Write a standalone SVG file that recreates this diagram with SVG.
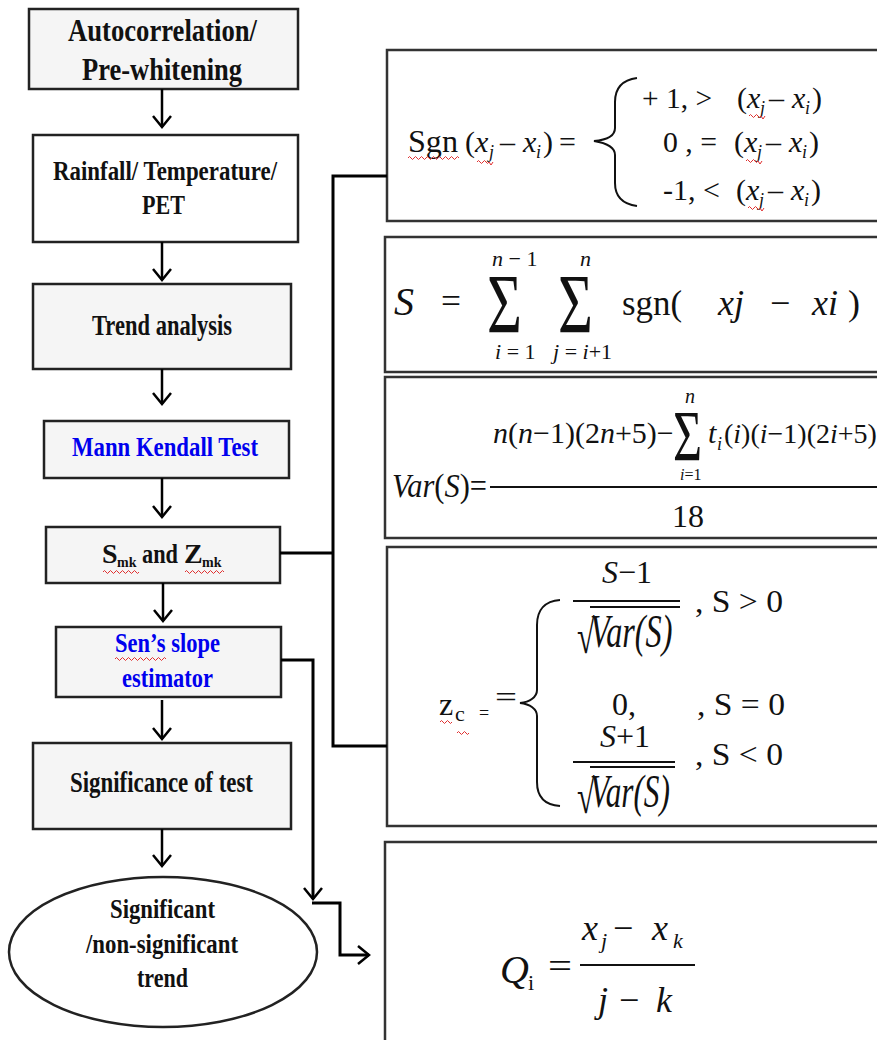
<svg xmlns="http://www.w3.org/2000/svg" width="877" height="1040" viewBox="0 0 877 1040">
<style>
.box{fill:#f5f5f5;stroke:#222;stroke-width:2.5}
.wbox{fill:#fff;stroke:#222;stroke-width:2.5}
.fbox{fill:#fff;stroke:#333;stroke-width:2.5}
.lb{font-family:"Liberation Serif","Times New Roman",serif;font-weight:bold;fill:#111}
.blue{fill:#0000ee}
.m{font-family:"Liberation Serif","Times New Roman",serif;fill:#111}
.i{font-style:italic}
.conn{fill:none;stroke:#000;stroke-width:3}
.arr{fill:none;stroke:#000;stroke-width:2.5}
.bar{stroke:#111;stroke-width:2}
.brace{fill:none;stroke:#111;stroke-width:2}
.spell{fill:none;stroke:#e03030;stroke-width:1}
</style>
<defs>
<marker id="ah" markerUnits="userSpaceOnUse" markerWidth="20" markerHeight="22" refX="12" refY="10" orient="auto">
<path d="M1,1 L12,10 L1,19" fill="none" stroke="#000" stroke-width="2.5"/>
</marker>
</defs>

<!-- left flow nodes -->
<g id="n-autocorr">
<rect class="box" x="29" y="9" width="269" height="80"/>
<text class="lb" font-size="32" x="68" y="41" textLength="189" lengthAdjust="spacingAndGlyphs">Autocorrelation/</text>
<text class="lb" font-size="32" x="82" y="80" textLength="160" lengthAdjust="spacingAndGlyphs">Pre-whitening</text>
</g>
<g id="n-rainfall">
<rect class="wbox" x="33" y="135" width="265" height="107"/>
<text class="lb" font-size="27" x="53" y="180" textLength="224" lengthAdjust="spacingAndGlyphs">Rainfall/ Temperature/</text>
<text class="lb" font-size="27" x="142" y="214" textLength="43" lengthAdjust="spacingAndGlyphs">PET</text>
</g>
<g id="n-trend">
<rect class="box" x="33" y="284" width="258" height="85"/>
<text class="lb" font-size="29" x="92" y="335" textLength="140" lengthAdjust="spacingAndGlyphs">Trend analysis</text>
</g>
<g id="n-mk">
<rect class="box" x="44" y="421" width="245" height="57"/>
<text class="lb blue" font-size="27" x="72" y="456" textLength="186" lengthAdjust="spacingAndGlyphs">Mann Kendall Test</text>
</g>
<g id="n-smk">
<rect class="box" x="46" y="527" width="234" height="56"/>
<text class="lb" font-size="28" x="102" y="563">S</text>
<text class="lb" font-size="14" x="117" y="567">mk</text>
<text class="lb" font-size="28" x="142" y="563" textLength="36" lengthAdjust="spacingAndGlyphs">and</text>
<text class="lb" font-size="28" x="184" y="563">Z</text>
<text class="lb" font-size="14" x="202" y="567">mk</text>
<path class="spell" d="M103,572 q1.5,-3 3,0 t3,0 t3,0 t3,0 t3,0 t3,0 t3,0 t3,0 t3,0 t3,0 t3,0 t3,0"/>
<path class="spell" d="M185,572 q1.5,-3 3,0 t3,0 t3,0 t3,0 t3,0 t3,0 t3,0 t3,0 t3,0 t3,0 t3,0 t3,0 t3,0"/>
</g>
<g id="n-sen">
<rect class="box" x="56" y="627" width="225" height="70"/>
<text class="lb blue" font-size="28" x="115" y="652" textLength="105" lengthAdjust="spacingAndGlyphs">Sen’s slope</text>
<text class="lb blue" font-size="28" x="122" y="687" textLength="91" lengthAdjust="spacingAndGlyphs">estimator</text>
<path class="spell" d="M115,659 q1.5,-3 3,0 t3,0 t3,0 t3,0 t3,0 t3,0 t3,0 t3,0 t3,0 t3,0 t3,0 t3,0 t3,0 t3,0 t3,0 t3,0 t3,0"/>
</g>
<g id="n-signif">
<rect class="box" x="33" y="743" width="258" height="86"/>
<text class="lb" font-size="29" x="70" y="792" textLength="183" lengthAdjust="spacingAndGlyphs">Significance of test</text>
</g>
<g id="n-result">
<ellipse class="wbox" cx="163" cy="952" rx="154" ry="75" stroke-width="1.5"/>
<text class="lb" font-size="28" x="110" y="918" textLength="105" lengthAdjust="spacingAndGlyphs">Significant</text>
<text class="lb" font-size="28" x="86" y="953" textLength="152" lengthAdjust="spacingAndGlyphs">/non-significant</text>
<text class="lb" font-size="28" x="137" y="987" textLength="51" lengthAdjust="spacingAndGlyphs">trend</text>
</g>

<!-- formula nodes -->
<g id="f-sgn">
<rect class="fbox" x="387" y="50" width="500" height="171"/>
<text class="m" font-size="31" x="408" y="152" textLength="50" lengthAdjust="spacingAndGlyphs">Sgn</text>
<text class="m" font-size="30" y="152"><tspan x="465">(</tspan><tspan x="475" class="i">x</tspan><tspan x="489" y="158" font-size="18" class="i">j</tspan><tspan x="500" y="152">–</tspan><tspan x="523" class="i">x</tspan><tspan x="536" y="158" font-size="18" class="i">i</tspan><tspan x="543" y="152">)</tspan><tspan x="559">=</tspan></text>
<path class="brace" d="M637,78 C622,80 615,88 615,102 L615,128 C615,136 606,140 594,141 C606,143 615,147 615,155 L615,183 C615,196 622,204 637,206"/>
<text class="m" font-size="30" x="642" y="108" textLength="70" lengthAdjust="spacingAndGlyphs">+ 1, &gt;</text>
<text class="m" font-size="30" y="108"><tspan x="737">(</tspan><tspan x="747" class="i">x</tspan><tspan x="760" y="114" font-size="18" class="i">j</tspan><tspan x="769" y="108">–</tspan><tspan x="792" class="i">x</tspan><tspan x="805" y="114" font-size="18" class="i">i</tspan><tspan x="812" y="108">)</tspan></text>
<text class="m" font-size="30" x="663" y="152" textLength="54" lengthAdjust="spacingAndGlyphs">0 , =</text>
<text class="m" font-size="30" y="152"><tspan x="734">(</tspan><tspan x="744" class="i">x</tspan><tspan x="757" y="158" font-size="18" class="i">j</tspan><tspan x="766" y="152">–</tspan><tspan x="789" class="i">x</tspan><tspan x="802" y="158" font-size="18" class="i">i</tspan><tspan x="809" y="152">)</tspan></text>
<text class="m" font-size="30" x="663" y="200" textLength="57" lengthAdjust="spacingAndGlyphs">-1, &lt;</text>
<text class="m" font-size="30" y="200"><tspan x="736">(</tspan><tspan x="746" class="i">x</tspan><tspan x="759" y="206" font-size="18" class="i">j</tspan><tspan x="768" y="200">–</tspan><tspan x="791" class="i">x</tspan><tspan x="804" y="206" font-size="18" class="i">i</tspan><tspan x="811" y="200">)</tspan></text>
<path class="spell" d="M408,158 q1.5,-3 3,0 t3,0 t3,0 t3,0 t3,0 t3,0 t3,0 t3,0 t3,0 t3,0 t3,0 t3,0 t3,0 t3,0 t3,0 t3,0 t3,0"/>
<path class="spell" d="M477,162 q1.5,-3 3,0 t3,0 t3,0 t3,0 l2,3 l2,-3"/>
<path class="spell" d="M749,116 q1.5,-3 3,0 t3,0 t3,0 t3,0 l2,3 l2,-3"/>
<path class="spell" d="M746,161 q1.5,-3 3,0 t3,0 t3,0 t3,0 l2,3 l2,-3"/>
<path class="spell" d="M748,208 q1.5,-3 3,0 t3,0 t3,0 t3,0 l2,3 l2,-3"/>
</g>

<g id="f-s">
<rect class="fbox" x="385" y="237" width="500" height="135"/>
<text class="m i" font-size="40" x="394" y="315">S</text>
<text class="m" font-size="36" x="441" y="313" textLength="20" lengthAdjust="spacingAndGlyphs">=</text>
<text class="m" font-size="60" transform="translate(487,333) scale(1,1.4)">Σ</text>
<text class="m" font-size="22" x="492" y="266"><tspan class="i">n</tspan> − 1</text>
<text class="m" font-size="22" x="495" y="359"><tspan class="i">i</tspan> = 1</text>
<text class="m" font-size="60" transform="translate(558,333) scale(1,1.4)">Σ</text>
<text class="m i" font-size="22" x="580" y="266">n</text>
<text class="m" font-size="22" x="553" y="359"><tspan class="i">j</tspan> = <tspan class="i">i</tspan>+1</text>
<text class="m" font-size="36" x="622" y="315" textLength="60" lengthAdjust="spacingAndGlyphs">sgn(</text>
<text class="m i" font-size="36" x="718" y="315">xj</text>
<text class="m" font-size="36" x="770" y="315">−</text>
<text class="m i" font-size="36" x="812" y="315">xi</text>
<text class="m" font-size="36" x="848" y="315">)</text>
</g>

<g id="f-var">
<rect class="fbox" x="385" y="377" width="500" height="161"/>
<text class="m" font-size="30" x="493" y="443"><tspan class="i">n</tspan>(<tspan class="i">n</tspan>−1)(2<tspan class="i">n</tspan>+5)−</text>
<text class="m" font-size="50" transform="translate(673,460) scale(1,1.45)">Σ</text>
<text class="m i" font-size="20" x="685" y="403">n</text>
<text class="m" font-size="16" x="680" y="480"><tspan class="i">i</tspan>=1</text>
<text class="m i" font-size="30" x="708" y="443">t</text>
<text class="m i" font-size="18" x="717" y="450">i</text>
<text class="m" font-size="28" x="724" y="443">(<tspan class="i">i</tspan>)(<tspan class="i">i</tspan>−1)(2<tspan class="i">i</tspan>+5)</text>
<line class="bar" x1="490" y1="487" x2="885" y2="487"/>
<text class="m" font-size="34" x="392" y="497" textLength="95" lengthAdjust="spacingAndGlyphs"><tspan class="i">Var</tspan>(<tspan class="i">S</tspan>)=</text>
<text class="m" font-size="32" x="672" y="527">18</text>
</g>

<g id="f-z">
<rect class="fbox" x="387" y="547" width="500" height="279"/>
<text class="m" font-size="32" x="439" y="715">z</text>
<text class="m" font-size="22" x="455" y="721">c</text>
<text class="m" font-size="18" x="479" y="719">=</text>
<text class="m" font-size="30" x="495" y="707" textLength="22" lengthAdjust="spacingAndGlyphs">=</text>
<path class="brace" d="M560,600 C545,601 537,610 537,625 L537,690 C537,697 530,702 520,703 C530,704 537,709 537,716 L537,782 C537,797 545,805 560,806"/>
<text class="m" font-size="32" x="602" y="583"><tspan class="i">S</tspan>−1</text>
<line class="bar" x1="573" y1="601" x2="680" y2="601"/>
<text class="m" font-size="32" transform="translate(577,653) scale(1,1.5)">√</text>
<line class="bar" x1="590" y1="607" x2="680" y2="607" stroke-width="1.5"/>
<text class="m i" font-size="34" transform="translate(590,647) scale(0.95,1.35)">Var(S)</text>
<text class="m" font-size="32" x="695" y="612" textLength="88" lengthAdjust="spacingAndGlyphs">, S &gt; 0</text>
<text class="m" font-size="32" x="612" y="715">0,</text>
<text class="m" font-size="32" x="697" y="715" textLength="88" lengthAdjust="spacingAndGlyphs">, S = 0</text>
<text class="m" font-size="32" x="600" y="747"><tspan class="i">S</tspan>+1</text>
<line class="bar" x1="573" y1="762" x2="675" y2="762"/>
<text class="m" font-size="32" transform="translate(577,813) scale(1,1.5)">√</text>
<line class="bar" x1="590" y1="767" x2="675" y2="767" stroke-width="1.5"/>
<text class="m i" font-size="34" transform="translate(590,807) scale(0.92,1.35)">Var(S)</text>
<text class="m" font-size="32" x="695" y="765" textLength="88" lengthAdjust="spacingAndGlyphs">, S &lt; 0</text>
<path class="spell" d="M440,722 q1.5,-3 3,0 t3,0 t3,0 t3,0"/>
<path class="spell" d="M457,733 q1.5,-3 3,0 t3,0 t3,0 t3,0"/>
</g>

<g id="f-q">
<rect class="fbox" x="385" y="842" width="500" height="210"/>
<text class="m i" font-size="40" x="500" y="983">Q</text>
<text class="m" font-size="22" x="528" y="990">i</text>
<text class="m" font-size="36" x="548" y="978" textLength="24" lengthAdjust="spacingAndGlyphs">=</text>
<text class="m i" font-size="36" x="582" y="940">x</text>
<text class="m i" font-size="22" x="601" y="948">j</text>
<text class="m" font-size="36" x="613" y="940">−</text>
<text class="m i" font-size="36" x="652" y="940">x</text>
<text class="m i" font-size="22" x="673" y="948">k</text>
<line class="bar" x1="580" y1="965" x2="695" y2="965"/>
<text class="m i" font-size="36" x="598" y="1012">j</text>
<text class="m" font-size="36" x="619" y="1012">−</text>
<text class="m i" font-size="36" x="656" y="1012">k</text>
</g>

<!-- connectors -->
<g id="connectors">
<line class="arr" x1="162" y1="89" x2="162" y2="127" marker-end="url(#ah)"/>
<line class="arr" x1="162" y1="242" x2="162" y2="280" marker-end="url(#ah)"/>
<line class="arr" x1="162" y1="369" x2="162" y2="404" marker-end="url(#ah)"/>
<line class="arr" x1="162" y1="478" x2="162" y2="517" marker-end="url(#ah)"/>
<line class="arr" x1="163" y1="583" x2="163" y2="621" marker-end="url(#ah)"/>
<line class="arr" x1="162" y1="700" x2="162" y2="739" marker-end="url(#ah)"/>
<line class="arr" x1="162" y1="829" x2="162" y2="866" marker-end="url(#ah)"/>
<path class="conn" d="M280,553 H333"/>
<path class="conn" d="M387,176 H333 V746 H387"/>
<path class="conn" d="M281,660 H313 V899" marker-end="url(#ah)"/>
<path class="conn" d="M312,903 H340 V955 H369" marker-end="url(#ah)"/>
</g>
</svg>
